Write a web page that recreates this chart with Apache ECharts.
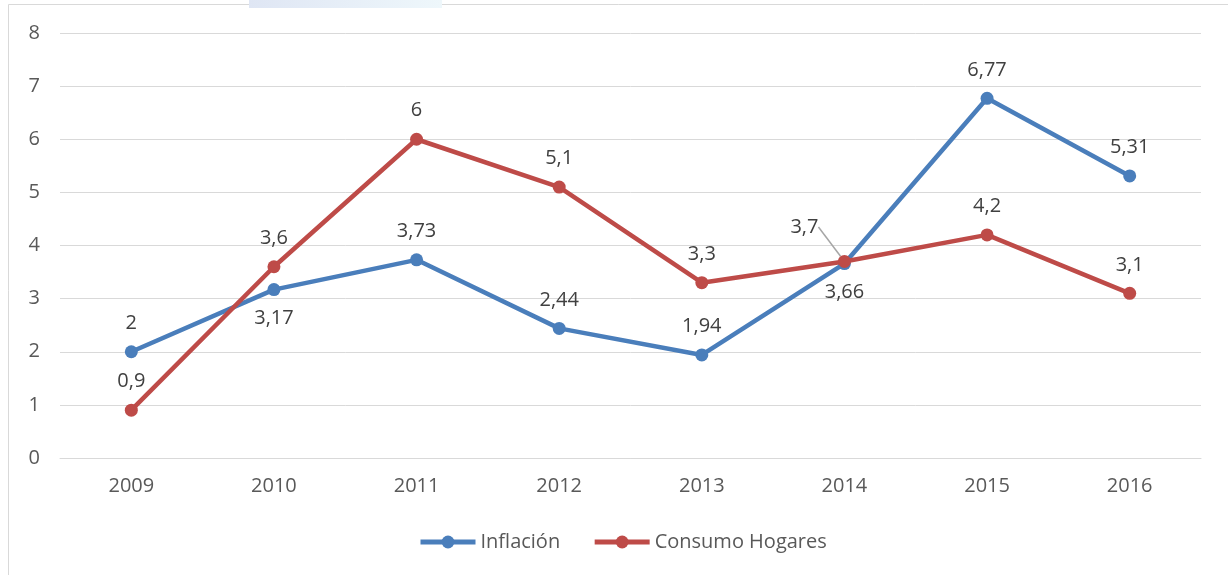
<!DOCTYPE html>
<html>
<head>
<meta charset="utf-8">
<script src="https://cdn.jsdelivr.net/npm/echarts@6/dist/echarts.min.js"></script>
<style>html,body{margin:0;padding:0;background:#fff}#c{width:1228px;height:575px}</style>
</head>
<body>
<div id="c"></div>
<script>
const years = ['2009','2010','2011','2012','2013','2014','2015','2016'];
const inflacion = [2, 3.17, 3.73, 2.44, 1.94, 3.66, 6.77, 5.31];
const consumo = [0.9, 3.6, 6, 5.1, 3.3, 3.7, 4.2, 3.1];
const inflacionLabelPos = ['top','bottom','top','top','top','bottom','top','top'];
const yTicks = [0,1,2,3,4,5,6,7,8];

const FONT = '"Open Sans", "Noto Sans", sans-serif';
const fmt = v => String(v).replace('.', ',');

const chart = echarts.init(document.getElementById('c'));
chart.setOption({
  backgroundColor: '#ffffff',
  animation: false,
  graphic: [
    { type: 'rect', shape: { x: 8.5, y: 4.5, width: 1240, height: 600 }, style: { fill: 'none', stroke: '#d9d9d9', lineWidth: 1 }, z: -10 },
    { type: 'rect', shape: { x: 249, y: 0, width: 193, height: 8 }, style: { fill: new echarts.graphic.LinearGradient(0,0,1,0,[{offset:0,color:'#dfe6f4'},{offset:1,color:'#eef7fb'}]) }, z: -10 }
  ],
  grid: { left: 60, right: 27, top: 33, bottom: 117, containLabel: false },
  legend: {
    left: 418, top: 532, padding: 0,
    itemWidth: 55, itemHeight: 16, itemGap: 32,
    lineStyle: { width: 5 },
    textStyle: { fontFamily: FONT, fontSize: 20, color: '#595959' },
    data: ['Inflación', 'Consumo Hogares']
  },
  xAxis: {
    type: 'category', data: years, boundaryGap: true,
    axisLine: { show: true, lineStyle: { color: '#d9d9d9', width: 1 } },
    axisTick: { show: false },
    axisLabel: { fontFamily: FONT, fontSize: 20, color: '#595959', margin: 18 }
  },
  yAxis: {
    type: 'value', min: yTicks[0], max: yTicks[yTicks.length-1], interval: 1,
    axisLine: { show: false }, axisTick: { show: false },
    splitLine: { lineStyle: { color: '#d9d9d9', width: 1 } },
    axisLabel: { fontFamily: FONT, fontSize: 20, color: '#595959', margin: 20 }
  },
  series: [
    {
      name: 'Inflación', type: 'line', data: inflacion.map((v,i)=>({ value: v, label: { position: inflacionLabelPos[i] } })),
      color: '#4a7ebb',
      lineStyle: { width: 4.5, color: '#4a7ebb' },
      itemStyle: { color: '#4a7ebb' },
      symbol: 'circle', symbolSize: 13,
      label: { show: true, distance: 12, fontFamily: FONT, fontSize: 20, color: '#404040', formatter: p => fmt(p.value) },
      z: 3
    },
    {
      name: 'Consumo Hogares', type: 'line',
      data: consumo.map((v,i)=> i === 5
        ? { value: v, labelLine: { show: true, lineStyle: { color: '#a6a6a6', width: 1.5 } } }
        : { value: v, labelLine: { show: false } }),
      color: '#be4b48',
      lineStyle: { width: 4.5, color: '#be4b48' },
      itemStyle: { color: '#be4b48' },
      symbol: 'circle', symbolSize: 13,
      label: { show: true, position: 'top', distance: 12, fontFamily: FONT, fontSize: 20, color: '#404040', formatter: p => fmt(p.value) },
      labelLine: { show: false },
      labelLayout: p => (p.dataIndex === 5 ? { dx: -40, dy: -6 } : {}),
      z: 4
    }
  ]
});
</script>
</body>
</html>
